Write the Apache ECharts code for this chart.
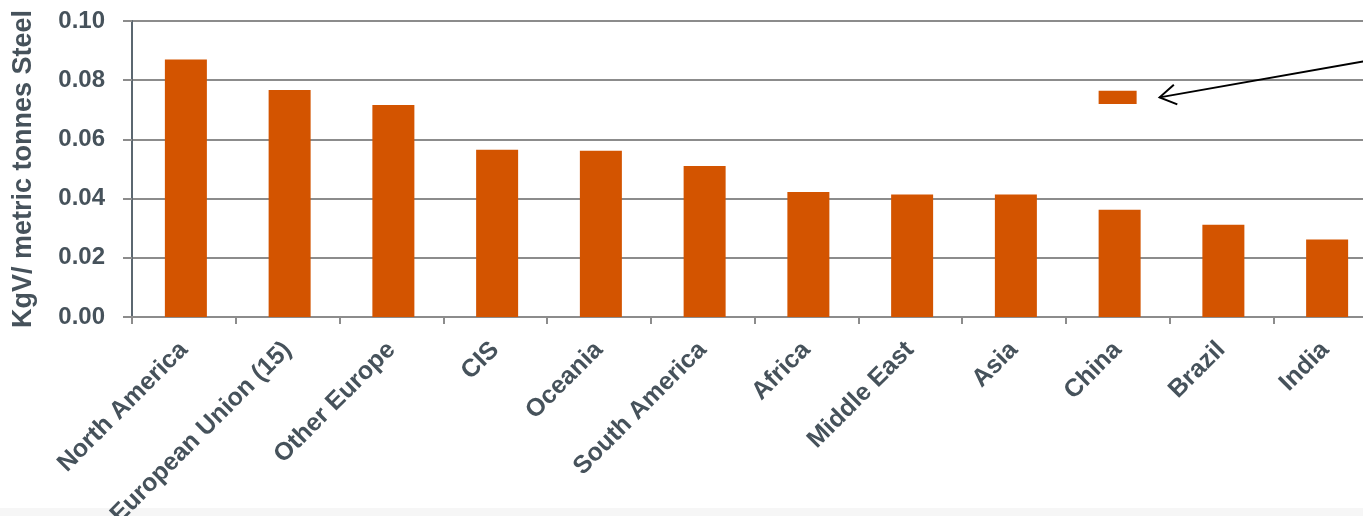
<!DOCTYPE html>
<html>
<head>
<meta charset="utf-8">
<script src="https://cdn.jsdelivr.net/npm/echarts@6/dist/echarts.min.js"></script>
<style>
html,body{margin:0;padding:0;background:#fff;overflow:hidden;width:1363px;height:516px;}
#c{width:1380px;height:516px;}
</style>
</head>
<body>
<div id="c"></div>
<script>
var categories = ['North America','European Union (15)','Other Europe','CIS','Oceania','South America','Africa','Middle East','Asia','China','Brazil','India'];
var values = [0.087, 0.0767, 0.0716, 0.0565, 0.0562, 0.0510, 0.0422, 0.0414, 0.0414, 0.0362, 0.0312, 0.0262];
var floatBase = [null,null,null,null,null,null,null,null,null,0.0720,null,null];
var floatHeight = [null,null,null,null,null,null,null,null,null,0.0044,null,null];
var yAxisName = 'KgV/ metric tonnes Steel';

var textColor = '#46525b';
var barColor = '#D35400';
var ff = 'Liberation Sans, Arial, sans-serif';
var chart = echarts.init(document.getElementById('c'), null, {renderer:'canvas'});
chart.setOption({
  animation: false,
  grid: {left: 132, right: 3, top: 21, bottom: 199, containLabel: false, outerBoundsMode: 'none'},
  xAxis: {
    type: 'category',
    data: categories,
    axisLine: {lineStyle: {color: '#8c8c8c', width: 2}},
    axisTick: {show: true, length: 7, lineStyle: {color: '#8c8c8c', width: 2}},
    axisLabel: {rotate: 45, interval: 0, margin: 29, fontSize: 25, fontWeight: 'bold', color: textColor, fontFamily: ff}
  },
  yAxis: {
    type: 'value', min: 0, max: 0.1, interval: 0.02,
    name: yAxisName, nameLocation: 'middle', nameGap: 95, nameRotate: 90,
    nameTextStyle: {fontSize: 27, fontWeight: 'bold', color: textColor, fontFamily: ff},
    axisLine: {show: true, lineStyle: {color: '#5b6770', width: 2}},
    axisTick: {show: true, length: 9, lineStyle: {color: '#8c8c8c', width: 2}},
    splitLine: {lineStyle: {color: '#8c8c8c', width: 2}},
    axisLabel: {margin: 27, fontSize: 24, fontWeight: 'bold', color: textColor, fontFamily: ff,
      formatter: function(v){ return v.toFixed(2); }}
  },
  series: [
    {type: 'bar', data: values, barWidth: 42, barGap: '-100%', itemStyle: {color: barColor}},
    {type: 'bar', stack: 'f', data: floatBase, barWidth: 38, itemStyle: {color: 'transparent'}, silent: true},
    {type: 'bar', stack: 'f', data: floatHeight, barWidth: 38, itemStyle: {color: barColor}}
  ]
});

// annotation arrow pointing at the floating bar
var p = chart.convertToPixel({seriesIndex: 0}, ['China', 0.0742]);
var tipX = p[0] + 42, tipY = p[1];
var startX = 1380, startY = tipY - 39;
var ang = Math.atan2(startY - tipY, startX - tipX);
var L = 19, spread = 0.55;
chart.setOption({
  graphic: [
    {type: 'rect', z: -10, shape: {x: 0, y: 508, width: 1380, height: 8}, style: {fill: '#f6f6f6'}},
    {type: 'line', shape: {x1: startX, y1: startY, x2: tipX, y2: tipY}, style: {stroke: '#000', lineWidth: 2}},
    {type: 'polyline', shape: {points: [
      [tipX + L*Math.cos(ang+spread), tipY + L*Math.sin(ang+spread)],
      [tipX, tipY],
      [tipX + L*Math.cos(ang-spread), tipY + L*Math.sin(ang-spread)]
    ]}, style: {stroke: '#000', lineWidth: 2, fill: null}}
  ]
});
</script>
</body>
</html>
